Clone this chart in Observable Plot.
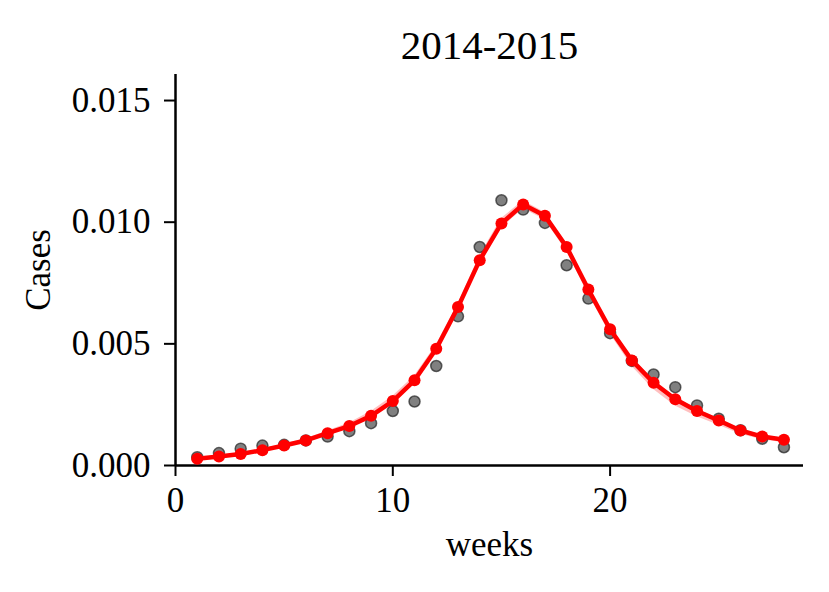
<!DOCTYPE html>
<html>
<head>
<meta charset="utf-8">
<script src="https://cdn.jsdelivr.net/npm/d3@7"></script>
<script src="https://cdn.jsdelivr.net/npm/@observablehq/plot@0.6"></script>
<style>
  html, body { margin: 0; padding: 0; background: #fff; }
  #chart svg { display: block; }
</style>
</head>
<body>
<div id="chart"></div>
<script>
const title = "2014-2015";
const xLabel = "weeks";
const yLabel = "Cases";
const weeks = [1,2,3,4,5,6,7,8,9,10,11,12,13,14,15,16,17,18,19,20,21,22,23,24,25,26,27,28];
const observed = [0.00034,0.00051,0.00069,0.00082,0.00085,0.00103,0.00119,0.00141,0.00174,0.00224,0.00263,0.00409,0.00613,0.00898,0.0109,0.01052,0.00997,0.00823,0.00686,0.00544,0.0043,0.00374,0.00322,0.00247,0.00192,0.00145,0.0011,0.00075];
const fitted = [0.00028,0.00037,0.00047,0.00063,0.00082,0.00103,0.00133,0.00162,0.00204,0.00265,0.0035,0.0048,0.00651,0.00844,0.00995,0.01073,0.01026,0.00898,0.00723,0.0056,0.00432,0.0034,0.00272,0.00224,0.00185,0.00144,0.00119,0.00106];
const fitLower = [0.00024,0.00033,0.00043,0.00058,0.00077,0.00097,0.00127,0.00155,0.00196,0.00255,0.00338,0.00465,0.00635,0.00825,0.00975,0.01055,0.0101,0.0088,0.00705,0.0054,0.00408,0.00312,0.00245,0.002,0.00165,0.00128,0.00106,0.00094];
const fitUpper = [0.00032,0.00041,0.00051,0.00068,0.00088,0.0011,0.00142,0.00175,0.00222,0.00285,0.00368,0.00495,0.00665,0.00862,0.01015,0.01088,0.0104,0.00912,0.00738,0.00575,0.00445,0.00352,0.00282,0.00232,0.00192,0.0015,0.00125,0.00112];
const xTicks = [0, 10, 20];
const yTicks = [0, 0.005, 0.010, 0.015];

const rows = weeks.map((w, i) => ({week: w, obs: observed[i], fit: fitted[i], lo: fitLower[i], hi: fitUpper[i]}));

const font = "'Liberation Serif', 'DejaVu Serif', serif";

const chart = Plot.plot({
  width: 829,
  height: 592,
  marginLeft: 175,
  marginRight: 26,
  marginTop: 74,
  marginBottom: 127,
  style: {fontFamily: font, background: "#fff", color: "#000"},
  x: {domain: [0, 28.9], ticks: xTicks, label: null},
  y: {domain: [0, 0.01607], ticks: yTicks, label: null},
  marks: [
    Plot.axisX({ticks: xTicks, tickSize: 11, tickPadding: 11, fontSize: 35, tickFormat: d3.format("d"), strokeWidth: 2, label: null}),
    Plot.axisY({ticks: yTicks, tickSize: 11, tickPadding: 14, fontSize: 35, tickFormat: d3.format(".3f"), strokeWidth: 2, label: null}),
    Plot.ruleX([0], {stroke: "#000", strokeWidth: 2.5}),
    Plot.ruleY([0], {stroke: "#000", strokeWidth: 2.5}),
    Plot.areaY(rows, {x: "week", y1: "lo", y2: "hi", fill: "red", fillOpacity: 0.25}),
    Plot.dot(rows, {x: "week", y: "obs", r: 5.5, fill: "#555", stroke: "#222", strokeWidth: 1.5, fillOpacity: 0.75, strokeOpacity: 0.7}),
    Plot.line(rows, {x: "week", y: "fit", stroke: "red", strokeWidth: 4.5}),
    Plot.dot(rows, {x: "week", y: "fit", r: 6, fill: "red"}),
    Plot.text([title], {frameAnchor: "top", dy: -45, fontSize: 41, fill: "#000"}),
    Plot.text([yLabel], {frameAnchor: "left", dx: -137, rotate: -90, textAnchor: "middle", fontSize: 35, fill: "#000"}),
    Plot.text([xLabel], {frameAnchor: "bottom", dy: 90, fontSize: 35, fill: "#000"})
  ]
});
document.getElementById("chart").appendChild(chart);
</script>
</body>
</html>
